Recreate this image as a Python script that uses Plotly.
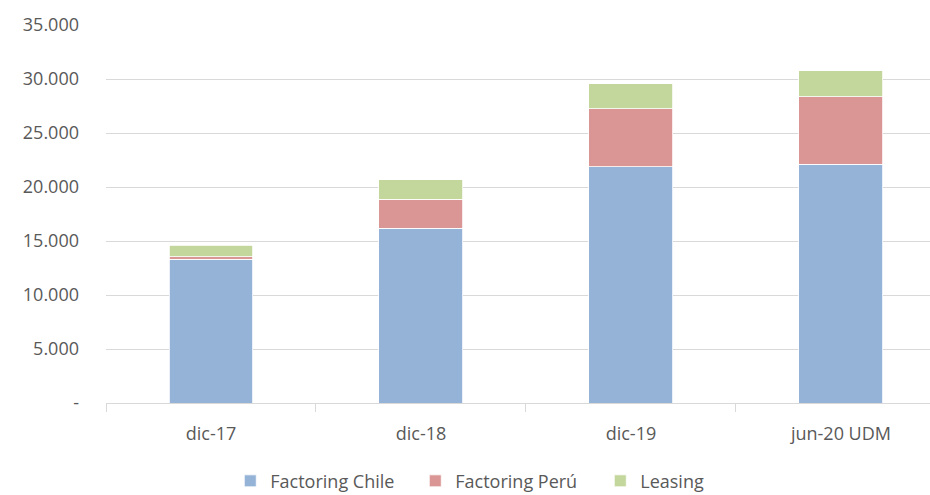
import plotly.graph_objects as go

# Portfolio composition by business line
periods = ["dic-17", "dic-18", "dic-19", "jun-20 UDM"]
factoring_chile = [13330, 16180, 21880, 22100]
factoring_peru = [220, 2680, 5370, 6260]
leasing = [1080, 1790, 2290, 2410]

y_ticks = [0, 5000, 10000, 15000, 20000, 25000, 30000, 35000]
y_tick_labels = ["-", "5.000", "10.000", "15.000", "20.000", "25.000", "30.000", "35.000"]

series = [
    ("Factoring Chile", factoring_chile, "#95B3D7"),
    ("Factoring Perú", factoring_peru, "#D99694"),
    ("Leasing", leasing, "#C3D69B"),
]

font_family = "Open Sans, Liberation Sans, sans-serif"
text_color = "#595959"

fig = go.Figure()
for name, values, color in series:
    fig.add_trace(go.Bar(
        x=periods,
        y=values,
        name=name,
        marker=dict(color=color, line=dict(color="#FFFFFF", width=0.8)),
        width=0.4,
    ))

fig.update_layout(
    barmode="stack",
    width=930,
    height=495,
    margin=dict(l=106, r=0, t=25, b=92, autoexpand=False),
    paper_bgcolor="#FFFFFF",
    plot_bgcolor="#FFFFFF",
    font=dict(family=font_family, size=18, color=text_color),
    showlegend=True,
    legend=dict(
        orientation="h",
        x=0.546,
        xanchor="center",
        xref="container",
        y=0.028,
        yanchor="middle",
        yref="container",
        font=dict(size=18, color=text_color),
        traceorder="normal",
        itemwidth=30,
        entrywidth=140,
    ),
)

fig.update_xaxes(
    range=[-0.5, 3.424],
    showgrid=False,
    showline=True,
    linecolor="#D9D9D9",
    linewidth=1,
    ticks="outside",
    tickson="boundaries",
    ticklen=8,
    tickcolor="#D9D9D9",
    tickangle=0,
    ticklabelstandoff=14,
    tickfont=dict(size=18, color=text_color),
)

fig.update_yaxes(
    range=[0, 35000],
    tickvals=y_ticks,
    ticktext=y_tick_labels,
    showgrid=True,
    gridcolor="#D9D9D9",
    gridwidth=1,
    zeroline=False,
    showline=False,
    ticks="",
    ticklabelstandoff=26,
    tickfont=dict(size=18, color=text_color),
)

fig.write_html("out.html")
